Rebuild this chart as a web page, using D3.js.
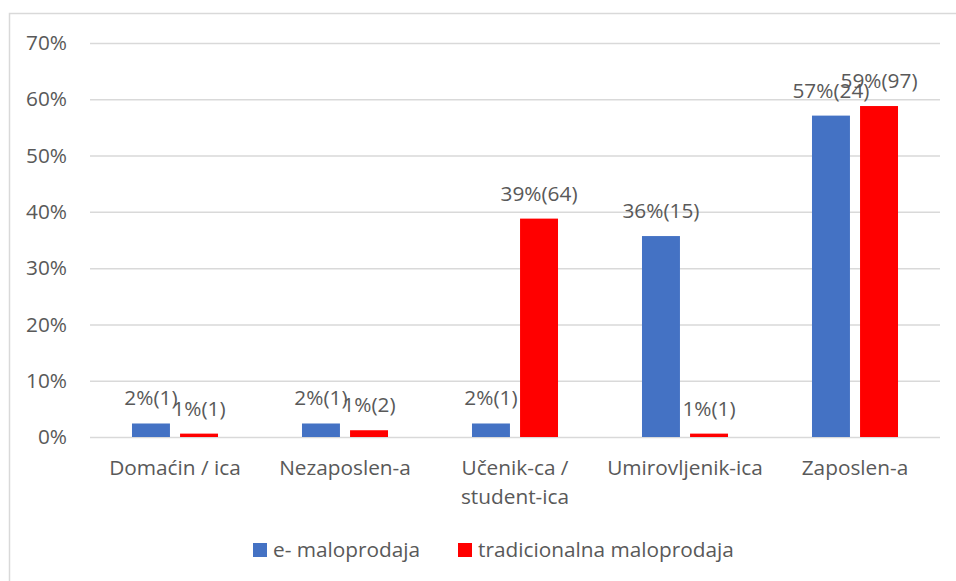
<!DOCTYPE html>
<html>
<head>
<meta charset="utf-8">
<script src="https://cdn.jsdelivr.net/npm/d3@7"></script>
<style>
  body { margin: 0; background: #fff; }
  text { font-family: "Open Sans", sans-serif; fill: #595959; }
</style>
</head>
<body>
<svg id="chart"></svg>
<script>
const categories = ['Domaćin / ica', 'Nezaposlen-a', 'Učenik-ca / student-ica', 'Umirovljenik-ica', 'Zaposlen-a'];
const seriesNames = ['e- maloprodaja', 'tradicionalna maloprodaja'];
const eShare = [0.024, 0.024, 0.024, 0.357, 0.571];
const eCount = [1, 1, 1, 15, 24];
const tradShare = [0.006, 0.012, 0.388, 0.006, 0.588];
const tradCount = [1, 2, 64, 1, 97];
const yTicks = [0, 0.1, 0.2, 0.3, 0.4, 0.5, 0.6, 0.7];
const colors = ['#4472C4', '#FF0000'];

const width = 956;
const height = 581;
const margin = {top: 43, right: 16, bottom: 144, left: 90};
const innerW = width - margin.left - margin.right;
const innerH = height - margin.top - margin.bottom;
const fontSize = 20.8;

const data = categories.map((c, i) => ({
  name: c,
  values: [
    {key: seriesNames[0], share: eShare[i], count: eCount[i]},
    {key: seriesNames[1], share: tradShare[i], count: tradCount[i]}
  ]
}));

const svg = d3.select('#chart')
    .attr('width', width)
    .attr('height', height);

// chart frame
svg.append('path')
    .attr('d', `M9.5,${height}V13.5H${width}`)
    .attr('fill', 'none')
    .attr('stroke', '#D9D9D9')
    .attr('stroke-width', 1.5);

const chart = svg.append('g')
    .attr('transform', `translate(${margin.left},${margin.top})`);

const x0 = d3.scaleBand()
    .domain(categories)
    .range([0, innerW])
    .paddingInner(0.494)
    .paddingOuter(0.247);

const x1 = d3.scaleBand()
    .domain(seriesNames)
    .range([0, x0.bandwidth()])
    .paddingInner(0.21);

const y = d3.scaleLinear()
    .domain([0, 0.7])
    .range([innerH, 0]);

const yAxis = d3.axisLeft(y)
    .tickValues(yTicks)
    .tickSize(-innerW)
    .tickPadding(23)
    .tickFormat(d3.format('.0%'));

chart.append('g')
    .attr('class', 'y axis')
    .call(yAxis)
    .call(g => g.select('.domain').remove())
    .call(g => g.selectAll('line').attr('stroke', '#D9D9D9').attr('stroke-width', 1.5))
    .call(g => g.selectAll('text')
        .attr('font-size', fontSize)
        .attr('font-family', '"Open Sans", sans-serif')
        .attr('fill', '#595959'));

const group = chart.selectAll('.group')
    .data(data)
  .enter().append('g')
    .attr('class', 'group')
    .attr('transform', d => `translate(${x0(d.name)},0)`);

group.selectAll('rect')
    .data(d => d.values)
  .enter().append('rect')
    .attr('x', d => x1(d.key))
    .attr('y', d => y(d.share))
    .attr('width', x1.bandwidth())
    .attr('height', d => innerH - y(d.share))
    .attr('fill', (d, i) => colors[i]);

group.selectAll('.label')
    .data(d => d.values)
  .enter().append('text')
    .attr('class', 'label')
    .attr('x', d => x1(d.key) + x1.bandwidth() / 2)
    .attr('y', d => y(d.share) - 18)
    .attr('text-anchor', 'middle')
    .attr('font-size', fontSize)
    .attr('fill', '#404040')
    .text(d => `${Math.round(d.share * 100)}%(${d.count})`);

// category labels, wrapped the way the original is
const catLines = {'Učenik-ca / student-ica': ['Učenik-ca /', 'student-ica']};
chart.selectAll('.cat')
    .data(categories)
  .enter().append('text')
    .attr('class', 'cat')
    .attr('text-anchor', 'middle')
    .attr('font-size', fontSize)
    .attr('y', innerH + 38)
    .each(function(d) {
      const lines = catLines[d] || [d];
      d3.select(this).selectAll('tspan')
          .data(lines)
        .enter().append('tspan')
          .attr('x', x0(d) + x0.bandwidth() / 2)
          .attr('dy', (l, i) => i ? 29 : 0)
          .text(l => l);
    });

// legend
const legend = svg.append('g')
    .attr('transform', 'translate(253,543)');
const legendX = [0, 205];
seriesNames.forEach((s, i) => {
  const item = legend.append('g').attr('transform', `translate(${legendX[i]},0)`);
  item.append('rect')
      .attr('width', 14)
      .attr('height', 14)
      .attr('fill', colors[i]);
  item.append('text')
      .attr('x', 20)
      .attr('y', 14)
      .attr('font-size', fontSize)
      .text(s);
});
</script>
</body>
</html>
